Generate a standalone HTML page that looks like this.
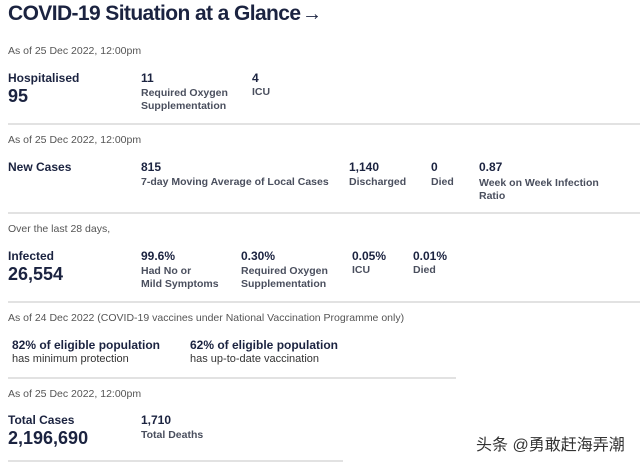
<!DOCTYPE html>
<html><head><meta charset="utf-8"><style>
body{margin:0;width:640px;height:470px;background:#fff;overflow:hidden;position:relative;font-family:"Liberation Sans",sans-serif;color:#1b2340}
.a{position:absolute;white-space:nowrap;line-height:1}
.t{font-size:21px;font-weight:bold;letter-spacing:-0.6px}
.d{font-size:10.5px;color:#555}
.h{font-size:12px;font-weight:bold}
.b{font-size:18px;font-weight:bold}
.v{font-size:12px;font-weight:bold}
.l{font-size:10.5px;font-weight:bold;color:#4a4f5e}
.r{position:absolute;height:2px;background:#e2e2e2}
</style></head><body>
<div class="a t" style="left:8px;top:3px">COVID-19 Situation at a Glance</div>
<div class="a" style="left:302px;top:4px;font-size:20px;color:#1b2340">→</div>

<div class="a d" style="left:8px;top:46px">As of 25 Dec 2022, 12:00pm</div>
<div class="a h" style="left:8px;top:72px">Hospitalised</div>
<div class="a b" style="left:8px;top:87px">95</div>
<div class="a v" style="left:141px;top:72px">11</div>
<div class="a l" style="left:141px;top:87px;line-height:13px">Required Oxygen<br>Supplementation</div>
<div class="a v" style="left:252px;top:72px">4</div>
<div class="a l" style="left:252px;top:87px">ICU</div>
<div class="r" style="left:8px;top:123px;width:632px"></div>

<div class="a d" style="left:8px;top:135px">As of 25 Dec 2022, 12:00pm</div>
<div class="a h" style="left:8px;top:161px">New Cases</div>
<div class="a v" style="left:141px;top:161px">815</div>
<div class="a l" style="left:141px;top:177px">7-day Moving Average of Local Cases</div>
<div class="a v" style="left:349px;top:161px">1,140</div>
<div class="a l" style="left:349px;top:177px">Discharged</div>
<div class="a v" style="left:431px;top:161px">0</div>
<div class="a l" style="left:431px;top:177px">Died</div>
<div class="a v" style="left:479px;top:161px">0.87</div>
<div class="a l" style="left:479px;top:177px;line-height:13px">Week on Week Infection<br>Ratio</div>
<div class="r" style="left:8px;top:212px;width:632px"></div>

<div class="a d" style="left:8px;top:224px">Over the last 28 days,</div>
<div class="a h" style="left:8px;top:250px">Infected</div>
<div class="a b" style="left:8px;top:265px">26,554</div>
<div class="a v" style="left:141px;top:250px">99.6%</div>
<div class="a l" style="left:141px;top:265px;line-height:13px">Had No or<br>Mild Symptoms</div>
<div class="a v" style="left:241px;top:250px">0.30%</div>
<div class="a l" style="left:241px;top:265px;line-height:13px">Required Oxygen<br>Supplementation</div>
<div class="a v" style="left:352px;top:250px">0.05%</div>
<div class="a l" style="left:352px;top:265px">ICU</div>
<div class="a v" style="left:413px;top:250px">0.01%</div>
<div class="a l" style="left:413px;top:265px">Died</div>
<div class="r" style="left:8px;top:301px;width:632px"></div>

<div class="a d" style="left:8px;top:313px">As of 24 Dec 2022 (COVID-19 vaccines under National Vaccination Programme only)</div>
<div class="a v" style="left:12px;top:339px">82% of eligible population</div>
<div class="a l" style="left:12px;top:354px;font-weight:normal;color:#333;font-size:11px">has minimum protection</div>
<div class="a v" style="left:190px;top:339px">62% of eligible population</div>
<div class="a l" style="left:190px;top:354px;font-weight:normal;color:#333;font-size:11px">has up-to-date vaccination</div>
<div class="r" style="left:8px;top:377px;width:448px"></div>

<div class="a d" style="left:8px;top:389px">As of 25 Dec 2022, 12:00pm</div>
<div class="a h" style="left:8px;top:414px">Total Cases</div>
<div class="a b" style="left:8px;top:429px">2,196,690</div>
<div class="a v" style="left:141px;top:414px">1,710</div>
<div class="a l" style="left:141px;top:430px">Total Deaths</div>
<div class="r" style="left:8px;top:460px;width:335px"></div>

<div class="a" style="left:476px;top:438px;font-size:16px;color:#333;font-family:'Liberation Sans','Noto Sans CJK SC',sans-serif">头条 @勇敢赶海弄潮</div>
</body></html>
